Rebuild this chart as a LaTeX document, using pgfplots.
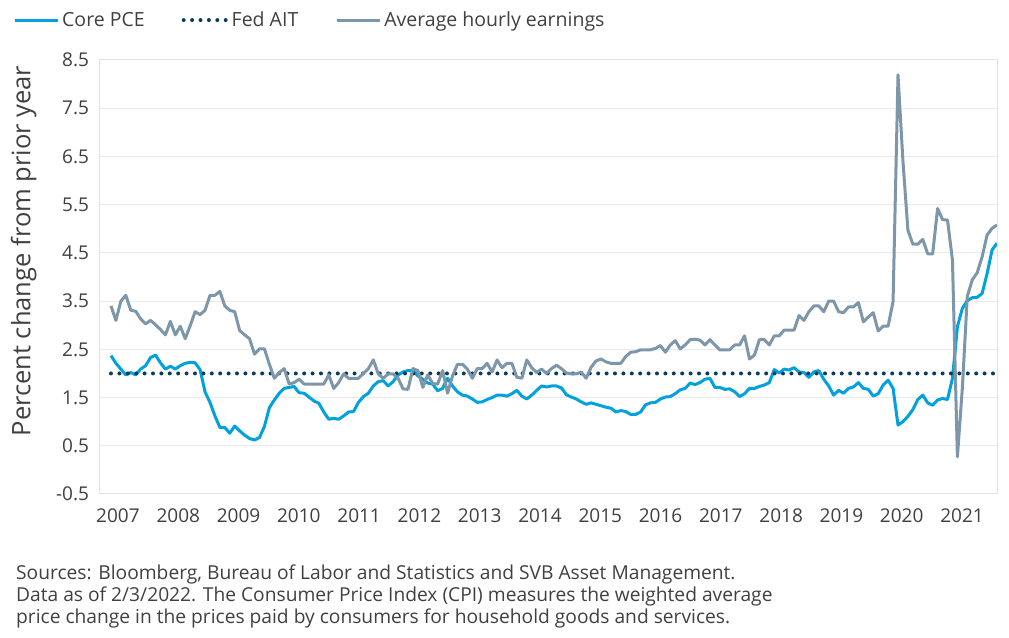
\documentclass[border=0pt]{standalone}
\usepackage{pgfplots}
\pgfplotsset{compat=1.18}
\usepackage{pgfplotstable}
\usepackage{fontspec}
\setmainfont{Open Sans}
\definecolor{pce}{RGB}{0,161,222}
\definecolor{ahe}{RGB}{125,150,170}
\definecolor{fed}{RGB}{10,60,90}
\definecolor{gridc}{RGB}{232,235,239}
\definecolor{framec}{RGB}{224,227,231}
\definecolor{txt}{RGB}{64,64,64}

\pgfplotstableread{
i pce ahe
0 2.37 3.40
1 2.21 3.10
2 2.09 3.50
3 1.97 3.62
4 2.02 3.31
5 1.97 3.29
6 2.09 3.13
7 2.16 3.03
8 2.33 3.10
9 2.38 3.01
10 2.22 2.91
11 2.09 2.80
12 2.15 3.08
13 2.09 2.80
14 2.16 2.98
15 2.21 2.72
16 2.23 2.99
17 2.22 3.28
18 2.08 3.22
19 1.62 3.31
20 1.40 3.62
21 1.12 3.62
22 0.88 3.70
23 0.88 3.40
24 0.76 3.31
25 0.91 3.28
26 0.81 2.89
27 0.72 2.80
28 0.65 2.72
29 0.62 2.40
30 0.67 2.51
31 0.90 2.51
32 1.29 2.19
33 1.45 1.90
34 1.59 2.02
35 1.69 2.10
36 1.71 1.78
37 1.73 1.81
38 1.60 1.88
39 1.59 1.78
40 1.51 1.78
41 1.43 1.78
42 1.38 1.78
43 1.20 1.78
44 1.05 1.97
45 1.07 1.69
46 1.05 1.81
47 1.12 1.99
48 1.20 1.90
49 1.21 1.90
50 1.40 1.90
51 1.52 2.00
52 1.59 2.10
53 1.74 2.28
54 1.83 1.99
55 1.85 1.90
56 1.74 1.99
57 1.83 1.99
58 1.97 1.90
59 2.03 1.68
60 2.06 1.67
61 2.06 2.10
62 1.95 2.06
63 1.88 1.71
64 1.80 1.97
65 1.78 1.79
66 1.64 1.78
67 1.69 2.06
68 1.90 1.59
69 1.74 1.95
70 1.62 2.19
71 1.55 2.19
72 1.53 2.09
73 1.47 1.90
74 1.40 2.10
75 1.41 2.10
76 1.46 2.21
77 1.50 2.03
78 1.55 2.28
79 1.55 2.12
80 1.53 2.21
81 1.58 2.21
82 1.65 1.92
83 1.53 1.90
84 1.47 2.28
85 1.55 2.12
86 1.65 2.02
87 1.74 2.09
88 1.72 2.00
89 1.74 2.10
90 1.74 2.17
91 1.70 2.10
92 1.56 2.01
93 1.51 1.99
94 1.47 1.99
95 1.41 2.03
96 1.36 1.90
97 1.39 2.13
98 1.36 2.26
99 1.33 2.30
100 1.30 2.24
101 1.28 2.21
102 1.20 2.21
103 1.23 2.21
104 1.21 2.35
105 1.15 2.44
106 1.15 2.45
107 1.20 2.49
108 1.35 2.49
109 1.39 2.49
110 1.40 2.52
111 1.47 2.58
112 1.51 2.44
113 1.52 2.59
114 1.58 2.68
115 1.66 2.51
116 1.69 2.59
117 1.80 2.70
118 1.77 2.71
119 1.81 2.69
120 1.88 2.59
121 1.90 2.70
122 1.71 2.59
123 1.71 2.49
124 1.67 2.49
125 1.68 2.49
126 1.62 2.59
127 1.52 2.59
128 1.58 2.78
129 1.69 2.30
130 1.69 2.38
131 1.73 2.70
132 1.76 2.70
133 1.81 2.59
134 2.08 2.78
135 2.01 2.78
136 2.09 2.90
137 2.07 2.90
138 2.12 2.90
139 2.03 3.20
140 2.02 3.10
141 1.92 3.28
142 2.03 3.40
143 2.06 3.40
144 1.88 3.28
145 1.74 3.50
146 1.55 3.50
147 1.65 3.28
148 1.59 3.26
149 1.69 3.38
150 1.72 3.38
151 1.81 3.47
152 1.69 3.07
153 1.67 3.17
154 1.53 3.26
155 1.58 2.88
156 1.76 2.98
157 1.86 2.98
158 1.69 3.49
159 0.93 8.19
160 1.00 6.40
161 1.11 4.97
162 1.25 4.68
163 1.46 4.68
164 1.55 4.78
165 1.39 4.48
166 1.34 4.48
167 1.45 5.42
168 1.48 5.19
169 1.46 5.18
170 1.90 4.35
171 2.97 0.27
172 3.35 1.70
173 3.51 3.60
174 3.57 3.94
175 3.58 4.09
176 3.66 4.42
177 4.07 4.87
178 4.56 5.01
179 4.70 5.08
}\datatable

\begin{document}
\begin{tikzpicture}
\useasboundingbox (0,0) rectangle (1009bp,638bp);
\begin{axis}[
  at={(99bp,144bp)}, anchor=south west,
  scale only axis, width=898bp, height=434bp,
  xmin=-2.42, xmax=179, ymin=-0.5, ymax=8.5,
  ytick={-0.5,0.5,1.5,2.5,3.5,4.5,5.5,6.5,7.5,8.5},
  xtick={1.41,13.59,25.77,37.95,50.13,62.31,74.49,86.67,98.85,111.03,123.21,135.39,147.57,159.75,171.93},
  xticklabels={2007,2008,2009,2010,2011,2012,2013,2014,2015,2016,2017,2018,2019,2020,2021},
  major tick length=0pt,
  axis line style={draw=framec, line width=1bp},
  ymajorgrids, grid style={draw=gridc, line width=1bp},
  tick label style={font=\fontsize{19bp}{21bp}\selectfont, text=txt},
  yticklabel style={xshift=-6.5bp, /pgf/number format/.cd, fixed, fixed zerofill, precision=1, assume math mode=true},
  xticklabel style={yshift=-11bp},
  ylabel={Percent change from prior year},
  ylabel style={font=\fontsize{25.5bp}{28bp}\selectfont, text=txt, at={(axis description cs:-0.084,0.56)}, anchor=center},
  legend columns=3,
  legend style={at={(axis description cs:-0.0958,1.092)}, anchor=west, draw=none, fill=none, inner sep=0pt,
    font=\fontsize{19.5bp}{21bp}\selectfont, text=txt,
    /tikz/every even column/.append style={column sep=34bp},
    nodes={inner sep=3bp}},
  legend image code/.code={\draw[#1] (0bp,0bp) -- (43bp,0bp);},
]
\addplot[pce, line width=3bp, line join=round] table[x=i, y=pce] {\datatable};
\addlegendentry{Core PCE}
\addplot[fed, line width=4bp, line cap=round, dash pattern=on 0pt off 8.4bp,
  legend image code/.code={\draw[fed, line width=4bp, line cap=round, dash pattern=on 0pt off 8.4bp] (0bp,0bp) -- (43bp,0bp);}]
  coordinates {(0,2) (179,2)};
\addlegendentry{Fed AIT}
\addplot[ahe, line width=3bp, line join=round] table[x=i, y=ahe] {\datatable};
\addlegendentry{Average hourly earnings}
\end{axis}
\node[anchor=north west, align=left, inner sep=0pt, text=txt, font=\fontsize{19.2bp}{22bp}\selectfont]
  at (16bp,73bp) {Sources: Bloomberg, Bureau of Labor and Statistics and SVB Asset Management.\\
Data as of 2/3/2022. The Consumer Price Index (CPI) measures the weighted average\\
price change in the prices paid by consumers for household goods and services.};
\end{tikzpicture}
\end{document}
